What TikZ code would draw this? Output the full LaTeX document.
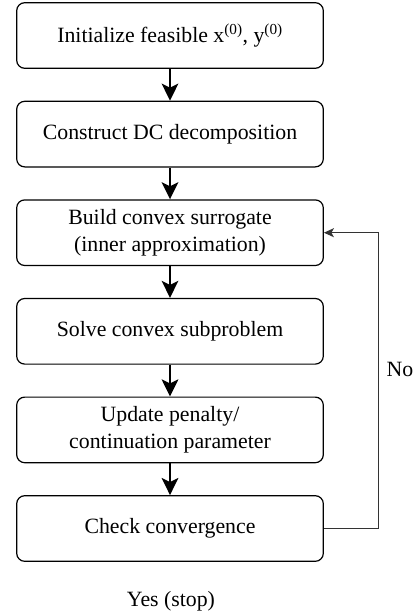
\documentclass[tikz,border=0pt]{standalone}
\usepackage{fontspec}
\setmainfont{Liberation Serif}
\usetikzlibrary{arrows.meta}
\tikzset{
  stepbox/.style={draw=black, line width=1.2bp, rounded corners=8bp, minimum width=306.6bp, minimum height=65.6bp, align=center, inner sep=0pt, font=\fontsize{21.8bp}{27.3bp}\selectfont},
  flow/.style={line width=2.8bp, -{Stealth[length=17bp, width=16.5bp, inset=4bp]}},
  back/.style={line width=1.2bp, draw=black!80, -{Stealth[length=10bp, width=9bp, inset=2.5bp]}},
  lbl/.style={font=\fontsize{21.8bp}{27.3bp}\selectfont, inner sep=0pt, anchor=base}
}
\begin{document}
\begin{tikzpicture}[x=1bp,y=-1bp]
\useasboundingbox (0,0) rectangle (419,616);
\node[stepbox] (b1) at (170,35.5) {Initialize feasible x\textsuperscript{(0)}, y\textsuperscript{(0)}};
\node[stepbox] (b2) at (170,134.1) {Construct DC decomposition};
\node[stepbox] (b3) at (170,232.7) {Build convex surrogate\\(inner approximation)};
\node[stepbox] (b4) at (170,331.3) {Solve convex subproblem};
\node[stepbox] (b5) at (170,429.9) {Update penalty/\\continuation parameter};
\node[stepbox] (b6) at (170,528.5) {Check convergence};
\draw[flow] (b1) -- (b2);
\draw[flow] (b2) -- (b3);
\draw[flow] (b3) -- (b4);
\draw[flow] (b4) -- (b5);
\draw[flow] (b5) -- (b6);
\coordinate (c1) at (378.3,528.5);
\coordinate (c2) at (378.3,232.7);
\draw[back] (b6.east) -- (c1) -- (c2) -- (b3.east);
\node[lbl] (no) at (400,376.5) {No};
\node[lbl] (yes) at (171,606) {Yes (stop)};
\end{tikzpicture}
\end{document}
